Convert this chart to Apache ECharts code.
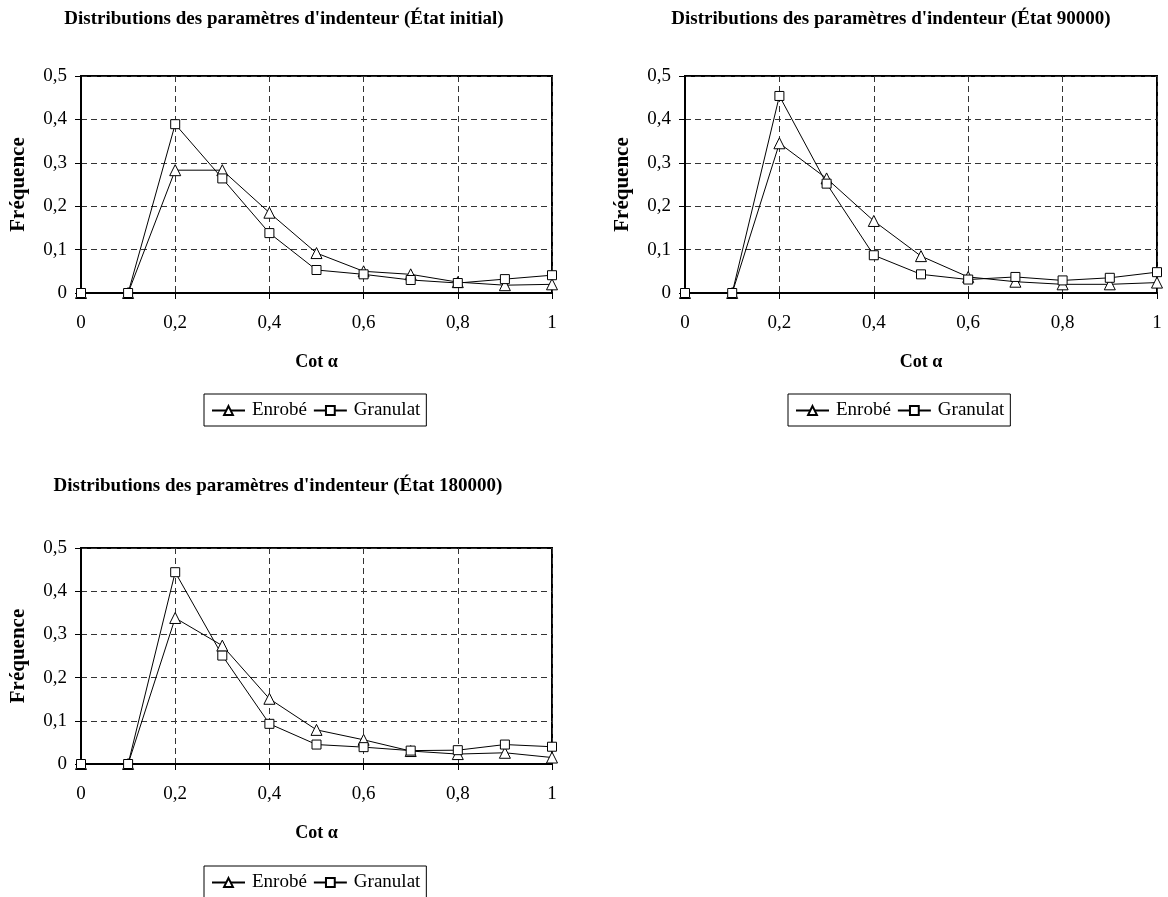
<!DOCTYPE html>
<html>
<head>
<meta charset="utf-8">
<script src="https://cdn.jsdelivr.net/npm/echarts@6/dist/echarts.min.js"></script>
<style>
html,body{margin:0;padding:0;background:#fff;}
#chart{width:1168px;height:897px;}
</style>
</head>
<body>
<div id="chart"></div>
<script>
const cotAlpha = [0, 0.1, 0.2, 0.3, 0.4, 0.5, 0.6, 0.7, 0.8, 0.9, 1];
const titles = [
  "Distributions des paramètres d'indenteur (État initial)",
  "Distributions des paramètres d'indenteur (État 90000)",
  "Distributions des paramètres d'indenteur (État 180000)"
];
const seriesNames = ['Enrobé', 'Granulat'];
const enrobeInitial = [0, 0, 0.283, 0.283, 0.185, 0.092, 0.050, 0.043, 0.025, 0.018, 0.020];
const granulatInitial = [0, 0, 0.389, 0.264, 0.138, 0.053, 0.043, 0.030, 0.023, 0.032, 0.041];
const enrobe90000 = [0, 0, 0.345, 0.264, 0.166, 0.085, 0.037, 0.026, 0.020, 0.020, 0.024];
const granulat90000 = [0, 0, 0.454, 0.252, 0.087, 0.043, 0.031, 0.037, 0.029, 0.035, 0.048];
const enrobe180000 = [0, 0, 0.338, 0.274, 0.151, 0.079, 0.056, 0.030, 0.023, 0.026, 0.015];
const granulat180000 = [0, 0, 0.444, 0.251, 0.093, 0.045, 0.039, 0.031, 0.032, 0.045, 0.040];
const yTicks = [0, 0.1, 0.2, 0.3, 0.4, 0.5];
const xTicks = [0, 0.2, 0.4, 0.6, 0.8, 1];

const panels = [
  {enrobe: enrobeInitial, granulat: granulatInitial},
  {enrobe: enrobe90000, granulat: granulat90000},
  {enrobe: enrobe180000, granulat: granulat180000}
];

const FONT = "'Liberation Serif', 'DejaVu Serif', serif";
const fmt = v => String(Math.round(v * 10) / 10).replace('.', ',');

const grids = [
  {left: 81, top: 76, width: 471, height: 217},
  {left: 685, top: 76, width: 472, height: 217},
  {left: 81, top: 548, width: 471, height: 216}
];
const titlePos = [
  {left: 284, top: 10},
  {left: 891, top: 10},
  {left: 278, top: 477}
];
const legendPos = [
  {left: 204, top: 394},
  {left: 788, top: 394},
  {left: 204, top: 866}
];

const dashed = {show: true, lineStyle: {color: '#333', width: 1, type: [6, 4]}};

const option = {
  backgroundColor: '#fff',
  animation: false,
  title: titles.map((t, i) => ({
    text: t,
    left: titlePos[i].left,
    top: titlePos[i].top,
    textAlign: 'center',
    padding: 0,
    textStyle: {fontFamily: FONT, fontWeight: 'bold', fontSize: 19, color: '#000'}
  })),
  legend: legendPos.map(p => ({
    data: seriesNames,
    left: p.left,
    top: p.top,
    orient: 'horizontal',
    borderColor: '#000',
    borderWidth: 1,
    borderRadius: 0,
    padding: [7, 6, 6, 7],
    itemWidth: 33,
    itemHeight: 11,
    itemGap: 6,
    selectedMode: false,
    textStyle: {fontFamily: FONT, fontSize: 19, color: '#000', padding: [0, 0, 0, 2]}
  })),
  grid: grids.map(g => Object.assign({
    show: true, borderColor: '#000', borderWidth: 2, backgroundColor: '#fff', containLabel: false
  }, g)),
  xAxis: grids.map((g, i) => ({
    type: 'value', gridIndex: i, min: 0, max: 1, interval: 0.2,
    name: 'Cot α', nameLocation: 'middle', nameGap: 60,
    nameTextStyle: {fontFamily: FONT, fontWeight: 'bold', fontSize: 18, color: '#000'},
    axisLine: {show: true, onZero: false, lineStyle: {color: '#000', width: 2}},
    axisTick: {show: true, length: 6, lineStyle: {color: '#000', width: 1}},
    axisLabel: {fontFamily: FONT, fontSize: 19, color: '#000', margin: 21, formatter: fmt},
    splitLine: dashed
  })),
  yAxis: grids.map((g, i) => ({
    type: 'value', gridIndex: i, min: 0, max: 0.5, interval: 0.1,
    name: 'Fréquence', nameLocation: 'middle', nameRotate: 90, nameGap: 52,
    nameTextStyle: {fontFamily: FONT, fontWeight: 'bold', fontSize: 21, color: '#000'},
    axisLine: {show: true, onZero: false, lineStyle: {color: '#000', width: 2}},
    axisTick: {show: true, length: 6, lineStyle: {color: '#000', width: 1}},
    axisLabel: {fontFamily: FONT, fontSize: 19, color: '#000', margin: 14, formatter: fmt},
    splitLine: dashed
  })),
  series: []
};

panels.forEach((p, i) => {
  [['Enrobé', p.enrobe, 'triangle', 11], ['Granulat', p.granulat, 'rect', 9]].forEach(([name, vals, sym, size]) => {
    option.series.push({
      name: name, type: 'line', xAxisIndex: i, yAxisIndex: i,
      data: cotAlpha.map((x, k) => [x, vals[k]]),
      symbol: sym, symbolSize: size, showSymbol: true,
      lineStyle: {color: '#000', width: 1},
      itemStyle: {color: '#fff', borderColor: '#000', borderWidth: 1},
      emphasis: {disabled: true},
      z: 3
    });
  });
});

const chart = echarts.init(document.getElementById('chart'), null, {renderer: 'canvas'});
chart.setOption(option);
</script>
</body>
</html>
